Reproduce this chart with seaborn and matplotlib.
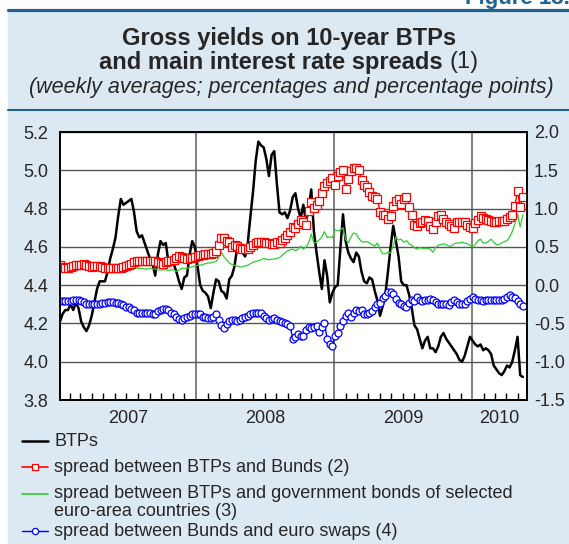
import matplotlib
matplotlib.use("Agg")
import numpy as np
import pandas as pd
import matplotlib.pyplot as plt
import matplotlib.dates as mdates
from matplotlib.lines import Line2D
from matplotlib.patches import Rectangle
import matplotlib.transforms as mtransforms
import seaborn as sns

# Weekly averages, first week starting 6 Jan 2007
start_date = "2007-01-06"

# BTP gross yield (left axis, %)
btp = [4.21, 4.25, 4.27, 4.27, 4.30, 4.27, 4.31, 4.28, 4.21, 4.18,
       4.16, 4.19, 4.24, 4.31, 4.38, 4.42, 4.42, 4.42, 4.47, 4.54,
       4.59, 4.65, 4.76, 4.85, 4.82, 4.83, 4.84, 4.85, 4.78, 4.68,
       4.65, 4.66, 4.62, 4.58, 4.54, 4.51, 4.45, 4.56, 4.63, 4.61,
       4.62, 4.52, 4.53, 4.51, 4.47, 4.42, 4.38, 4.44, 4.45, 4.56,
       4.63, 4.60, 4.50, 4.40, 4.37, 4.36, 4.34, 4.28, 4.36, 4.43,
       4.42, 4.37, 4.36, 4.33, 4.43, 4.45, 4.50, 4.60, 4.62, 4.57,
       4.55, 4.62, 4.76, 4.89, 5.05, 5.15, 5.13, 5.12, 5.06, 4.97,
       5.08, 5.10, 4.93, 4.78, 4.77, 4.78, 4.75, 4.79, 4.86, 4.88,
       4.80, 4.75, 4.82, 4.73, 4.80, 4.90, 4.68, 4.57, 4.47, 4.38,
       4.53, 4.45, 4.31, 4.36, 4.39, 4.40, 4.59, 4.77, 4.63, 4.57,
       4.54, 4.52, 4.57, 4.55, 4.47, 4.42, 4.41, 4.44, 4.43, 4.37,
       4.32, 4.24, 4.29, 4.35, 4.47, 4.60, 4.71, 4.63, 4.55, 4.42,
       4.40, 4.40, 4.35, 4.28, 4.19, 4.17, 4.12, 4.07, 4.11, 4.13,
       4.07, 4.07, 4.05, 4.08, 4.13, 4.15, 4.12, 4.10, 4.08, 4.06,
       4.04, 4.01, 4.00, 4.03, 4.08, 4.13, 4.11, 4.09, 4.08, 4.09,
       4.06, 4.07, 4.06, 4.04, 3.98, 3.96, 3.94, 3.93, 3.95, 3.98,
       3.97, 4.00, 4.06, 4.13, 3.93, 3.92]

# spread BTP - Bund (right axis, percentage points)
spread_bund = [0.26, 0.24, 0.23, 0.23, 0.24, 0.25, 0.26, 0.26, 0.26, 0.27,
               0.26, 0.25, 0.24, 0.25, 0.25, 0.25, 0.24, 0.23, 0.22, 0.22,
               0.22, 0.22, 0.23, 0.23, 0.24, 0.25, 0.26, 0.28, 0.30, 0.31,
               0.31, 0.31, 0.31, 0.31, 0.32, 0.31, 0.31, 0.30, 0.29, 0.28,
               0.30, 0.31, 0.32, 0.33, 0.35, 0.38, 0.37, 0.35, 0.34, 0.35,
               0.36, 0.37, 0.38, 0.40, 0.40, 0.41, 0.41, 0.41, 0.42, 0.45,
               0.53, 0.61, 0.62, 0.58, 0.56, 0.50, 0.52, 0.51, 0.48, 0.47,
               0.47, 0.47, 0.50, 0.53, 0.55, 0.56, 0.56, 0.56, 0.55, 0.55,
               0.54, 0.54, 0.56, 0.55, 0.59, 0.62, 0.66, 0.69, 0.76, 0.74,
               0.80, 0.85, 0.82, 0.78, 0.97, 1.08, 1.01, 1.05, 1.10, 1.20,
               1.30, 1.34, 1.36, 1.40, 1.31, 1.43, 1.48, 1.50, 1.26, 1.38,
               1.49, 1.53, 1.53, 1.50, 1.37, 1.31, 1.28, 1.22, 1.17, 1.15,
               1.13, 0.95, 0.91, 0.92, 0.87, 0.90, 1.03, 1.10, 1.13, 1.06,
               1.13, 1.15, 1.02, 0.92, 0.79, 0.77, 0.81, 0.82, 0.85, 0.84,
               0.77, 0.73, 0.83, 0.90, 0.91, 0.86, 0.82, 0.80, 0.77, 0.75,
               0.82, 0.82, 0.82, 0.82, 0.78, 0.76, 0.75, 0.81, 0.85, 0.90,
               0.88, 0.86, 0.85, 0.84, 0.83, 0.82, 0.84, 0.84, 0.84, 0.86,
               0.89, 0.92, 1.04, 1.23, 1.02, 1.15]

# spread BTP - selected euro-area government bonds
spread_euro = [0.24, 0.23, 0.22, 0.22, 0.23, 0.24, 0.24, 0.25, 0.25, 0.25,
               0.25, 0.24, 0.23, 0.23, 0.24, 0.24, 0.23, 0.22, 0.21, 0.21,
               0.21, 0.21, 0.21, 0.21, 0.21, 0.20, 0.21, 0.21, 0.22, 0.22,
               0.22, 0.22, 0.21, 0.21, 0.22, 0.21, 0.21, 0.20, 0.20, 0.20,
               0.20, 0.19, 0.20, 0.20, 0.18, 0.20, 0.22, 0.22, 0.22, 0.23,
               0.24, 0.25, 0.26, 0.26, 0.27, 0.28, 0.29, 0.29, 0.30, 0.31,
               0.36, 0.43, 0.37, 0.33, 0.29, 0.27, 0.26, 0.25, 0.24, 0.24,
               0.25, 0.26, 0.28, 0.30, 0.31, 0.32, 0.33, 0.35, 0.34, 0.33,
               0.34, 0.34, 0.35, 0.36, 0.39, 0.42, 0.45, 0.46, 0.47, 0.45,
               0.47, 0.51, 0.47, 0.50, 0.55, 0.67, 0.55, 0.56, 0.59, 0.63,
               0.70, 0.62, 0.63, 0.62, 0.72, 0.71, 0.72, 0.75, 0.60, 0.55,
               0.63, 0.68, 0.67, 0.61, 0.57, 0.56, 0.57, 0.55, 0.53, 0.51,
               0.55, 0.47, 0.41, 0.41, 0.43, 0.42, 0.52, 0.63, 0.59, 0.60,
               0.56, 0.58, 0.54, 0.52, 0.49, 0.47, 0.49, 0.48, 0.48, 0.48,
               0.47, 0.43, 0.49, 0.52, 0.53, 0.54, 0.53, 0.51, 0.51, 0.54,
               0.55, 0.55, 0.56, 0.55, 0.54, 0.52, 0.50, 0.53, 0.58, 0.60,
               0.55, 0.55, 0.57, 0.60, 0.56, 0.53, 0.53, 0.55, 0.57, 0.58,
               0.63, 0.70, 0.80, 0.93, 0.76, 0.92]

# spread Bund - euro swap
spread_swap = [-0.21, -0.21, -0.21, -0.21, -0.21, -0.20, -0.20, -0.20, -0.21, -0.22,
               -0.24, -0.25, -0.25, -0.25, -0.24, -0.24, -0.23, -0.23, -0.22, -0.22,
               -0.22, -0.23, -0.23, -0.24, -0.26, -0.28, -0.29, -0.31, -0.33, -0.36,
               -0.37, -0.37, -0.37, -0.36, -0.37, -0.38, -0.38, -0.34, -0.32, -0.31,
               -0.31, -0.33, -0.36, -0.38, -0.41, -0.44, -0.45, -0.43, -0.41, -0.40,
               -0.38, -0.38, -0.38, -0.38, -0.41, -0.42, -0.43, -0.43, -0.41, -0.38,
               -0.45, -0.52, -0.56, -0.51, -0.47, -0.45, -0.46, -0.47, -0.45, -0.43,
               -0.42, -0.40, -0.38, -0.37, -0.36, -0.36, -0.37, -0.40, -0.43, -0.46,
               -0.44, -0.43, -0.45, -0.47, -0.48, -0.50, -0.51, -0.53, -0.70, -0.68,
               -0.64, -0.66, -0.66, -0.58, -0.55, -0.56, -0.55, -0.54, -0.61, -0.55,
               -0.50, -0.70, -0.77, -0.79, -0.67, -0.62, -0.54, -0.47, -0.40, -0.36,
               -0.41, -0.36, -0.33, -0.34, -0.32, -0.38, -0.38, -0.37, -0.34, -0.29,
               -0.25, -0.23, -0.17, -0.14, -0.09, -0.09, -0.11, -0.18, -0.23, -0.25,
               -0.27, -0.29, -0.23, -0.20, -0.21, -0.16, -0.19, -0.21, -0.20, -0.19,
               -0.18, -0.20, -0.22, -0.24, -0.24, -0.24, -0.25, -0.26, -0.22, -0.20,
               -0.22, -0.24, -0.25, -0.24, -0.21, -0.18, -0.16, -0.18, -0.19, -0.20,
               -0.21, -0.19, -0.19, -0.20, -0.19, -0.20, -0.19, -0.19, -0.18, -0.16,
               -0.13, -0.16, -0.17, -0.21, -0.24, -0.27]

left_ticks = [3.8, 4.0, 4.2, 4.4, 4.6, 4.8, 5.0, 5.2]
right_ticks = [-1.5, -1.0, -0.5, 0.0, 0.5, 1.0, 1.5, 2.0]
years = ["2007", "2008", "2009", "2010"]
x_end = "2010-05-26"

labels = ["BTPs",
          "spread between BTPs and Bunds (2)",
          "spread between BTPs and government bonds of selected\neuro-area countries (3)",
          "spread between Bunds and euro swaps (4)"]

dates = pd.date_range(start_date, periods=len(btp), freq="7D")

sns.set_style("white")
plt.rcParams['font.family'] = ['Liberation Sans', 'DejaVu Sans']
plt.rcParams['axes.unicode_minus'] = False

BG = "#dde9f2"
DARK = "#1f6390"
W, H = 569, 544

fig = plt.figure(figsize=(W / 100, H / 100), dpi=100)
fig.patch.set_facecolor("white")

# light blue panel and rules
fig.patches.append(Rectangle((8 / W, 0), 1 - 8 / W, 1 - 10 / H,
                             transform=fig.transFigure, color=BG, zorder=-10))
fig.add_artist(Line2D([8 / W, 1], [1 - 9.5 / H] * 2, color=DARK, lw=2.3))
fig.add_artist(Line2D([8 / W, 1], [1 - 110 / H] * 2, color=DARK, lw=1.5))
fig.text(465 / W, 1 - 4 / H, "Figure 13.1", color=DARK, fontsize=16,
         fontweight="bold", ha="left", va="baseline")

# titles
cx = 289 / W
fig.text(cx, 1 - 38 / H, "Gross yields on 10-year BTPs", fontsize=17,
         fontweight="bold", ha="center", va="center")
renderer = fig.canvas.get_renderer()
t_b = fig.text(0, 1 - 62 / H, "and main interest rate spreads", fontsize=17,
               fontweight="bold", ha="left", va="center")
t_r = fig.text(0, 1 - 62 / H, "(1)", fontsize=17, ha="left", va="center")
wb = t_b.get_window_extent(renderer).width
wr = t_r.get_window_extent(renderer).width
gap = 0.28 * 17 * 100 / 72
x0 = 289 - (wb + gap + wr) / 2
t_b.set_x(x0 / W)
t_r.set_x((x0 + wb + gap) / W)
fig.text(291 / W, 1 - 88 / H, "(weekly averages; percentages and percentage points)",
         fontsize=15.5, fontstyle="italic", ha="center", va="center")

# axes
ax = fig.add_axes([60 / W, 1 - 400 / H, 467 / W, 268 / H])
ax.set_facecolor("white")
ax2 = ax.twinx()

sns.lineplot(x=dates, y=btp, ax=ax, color="black", lw=1.8, legend=False)
sns.lineplot(x=dates, y=spread_euro, ax=ax2, color="#33cc33", lw=0.9, legend=False)
sns.lineplot(x=dates, y=spread_bund, ax=ax2, color="#ff0000", lw=1.0, marker="s",
             markersize=5.5, markerfacecolor="white", markeredgecolor="#ff0000",
             markeredgewidth=0.9, legend=False)
sns.lineplot(x=dates, y=spread_swap, ax=ax2, color="#0000ff", lw=1.0, marker="o",
             markersize=5, markerfacecolor="white", markeredgecolor="#0000ff",
             markeredgewidth=0.9, legend=False)

ax.set_xlim(dates[0], pd.Timestamp(x_end))
ax.set_ylim(3.8, 5.2)
ax2.set_ylim(-1.5, 2.0)
ax.set_yticks(left_ticks)
ax.set_yticklabels([f"{v:.1f}" for v in left_ticks])
ax2.set_yticks(right_ticks)
ax2.set_yticklabels([f"{v:.1f}" for v in right_ticks])
ax.set_xlabel("")
ax.set_ylabel("")
ax2.set_ylabel("")

ax.xaxis.set_major_locator(mdates.YearLocator())
ax.xaxis.set_minor_locator(mdates.MonthLocator())
ax.xaxis.set_major_formatter(plt.NullFormatter())
ax.tick_params(axis="x", which="major", length=0)
ax.tick_params(axis="x", which="minor", direction="in", length=5, width=1,
               color="black", bottom=True, top=False)
ax.tick_params(axis="y", length=0, pad=8.5, labelsize=13)
ax2.tick_params(axis="y", length=0, pad=5, labelsize=13)

ax.grid(axis="y", color="#555555", lw=1.0)
ax.grid(axis="x", which="major", color="#808080", lw=1.4)
for a in (ax, ax2):
    for s in a.spines.values():
        s.set_color("black")
        s.set_linewidth(1.2)

# year labels centred on the visible part of each year
trans = mtransforms.blended_transform_factory(ax.transData, ax.transAxes)
xl = ax.get_xlim()
for y in years:
    a = max(mdates.date2num(pd.Timestamp(f"{y}-01-01")), xl[0])
    b = min(mdates.date2num(pd.Timestamp(f"{int(y) + 1}-01-01")), xl[1])
    ax.text((a + b) / 2, -0.07, y, transform=trans, ha="center", va="center",
            fontsize=13)

# legend
handles = [dict(color="black", lw=1.8),
           dict(color="#ff0000", lw=1.2, marker="s", ms=4.5, mfc="white", mew=0.9),
           dict(color="#33cc33", lw=1.2),
           dict(color="#0000ff", lw=1.0, marker="o", ms=4.5, mfc="white", mew=0.9)]
rows = [441, 467, 494, 531]
for kw, lab, yy in zip(handles, labels, rows):
    fig.add_artist(Line2D([22 / W, 48 / W], [1 - yy / H] * 2, markevery=[], **kw))
    if "marker" in kw:
        fig.add_artist(Line2D([35 / W], [1 - yy / H], ls="none", **kw))
    for i, line in enumerate(lab.split("\n")):
        fig.text(54 / W, 1 - (yy + 18 * i) / H, line, fontsize=13,
                 ha="left", va="center")

fig.savefig("out.png", dpi=100, facecolor=fig.get_facecolor())
